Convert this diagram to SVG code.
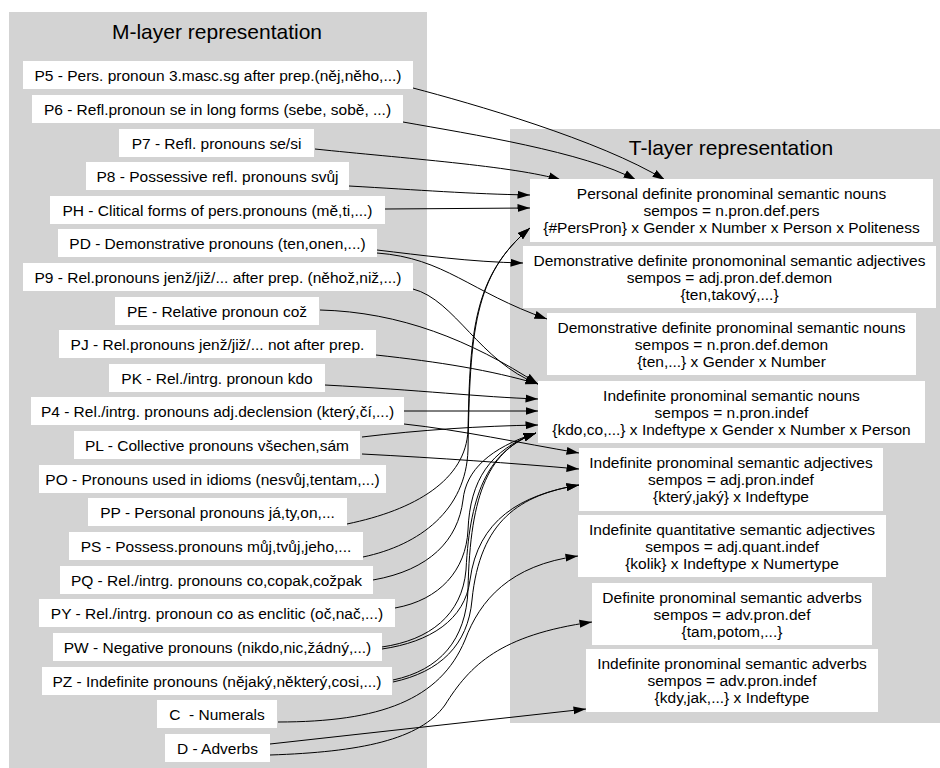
<svg xmlns="http://www.w3.org/2000/svg" width="940" height="768" viewBox="0 0 940 768">
<style>
.cl{fill:#d3d3d3;stroke:none}
.nd{fill:#ffffff;stroke:none}
.t{font-family:"Liberation Sans",Arial,sans-serif;font-size:15.5px;fill:#000;text-anchor:middle}
.ti{font-family:"Liberation Sans",Arial,sans-serif;font-size:21px;fill:#000;text-anchor:middle}
.e{fill:none;stroke:#000;stroke-width:1;marker-end:url(#ah)}
</style>
<defs>
<marker id="ah" markerUnits="userSpaceOnUse" markerWidth="13" markerHeight="9" viewBox="0 0 13 9" refX="12.5" refY="4.5" orient="auto">
<path d="M0,0.5 L12.5,4.5 L0,8.5 z" fill="#000"/>
</marker>
</defs>
<rect width="940" height="768" fill="#fff"/>
<g id="cluster_m">
<rect class="cl" x="9" y="12" width="418" height="756"/>
<text class="ti" x="217" y="39">M-layer representation</text>
</g>
<g id="cluster_t">
<rect class="cl" x="510" y="129" width="430" height="594"/>
<text class="ti" x="731" y="155">T-layer representation</text>
</g>
<g id="edges">
<path class="e" d="M413,88 C470,103 600,140 665,180"/>
<path class="e" d="M403,122 C470,134 585,152 636,180"/>
<path class="e" d="M315,149 C400,158 515,166 561,180"/>
<path class="e" d="M349,186 C420,190 470,194 530,195"/>
<path class="e" d="M385,209 L530,208"/>
<path class="e" d="M377,250 C420,255 470,262 523,263"/>
<path class="e" d="M377,253 C445,258 470,292 547,319"/>
<path class="e" d="M413,289 C455,300 480,362 538,384"/>
<path class="e" d="M320,310 C400,312 470,340 538,384"/>
<path class="e" d="M376,355 C440,362 490,370 538,384"/>
<path class="e" d="M325,385 C420,390 480,397 538,399"/>
<path class="e" d="M404,411 L538,411"/>
<path class="e" d="M404,424 C460,430 520,443 579,453"/>
<path class="e" d="M362,437 C420,430 480,426 538,425"/>
<path class="e" d="M362,454 C440,458 510,463 579,469"/>
<path class="e" d="M347,524 C415,510 466,480 468,430 C470,330 474,275 530,228"/>
<path class="e" d="M363,557 C420,545 466,510 468,450 C470,330 474,275 530,228"/>
<path class="e" d="M373,580 C430,570 458,540 463,500 C466,470 490,448 536,433"/>
<path class="e" d="M395,608 C440,600 466,570 468,530 C470,480 490,450 536,433"/>
<path class="e" d="M382,647 C430,640 462,615 466,570 C470,490 490,450 536,433"/>
<path class="e" d="M382,649 C430,642 465,620 470,580 C478,520 520,495 579,485"/>
<path class="e" d="M393,680 C440,670 466,640 468,590 C470,490 490,450 536,433"/>
<path class="e" d="M393,682 C440,672 468,645 472,600 C480,520 520,495 579,485"/>
<path class="e" d="M278,722 C380,722 440,700 465,640 C480,600 510,565 578,556"/>
<path class="e" d="M270,744 L586,709"/>
<path class="e" d="M270,755 C360,752 420,740 445,705 C470,665 500,635 592,622"/>
</g>
<g id="P5"><rect class="nd" x="23" y="61" width="390" height="28"/><text class="t" x="218" y="80.5">P5 - Pers. pronoun 3.masc.sg after prep.(něj,něho,...)</text></g>
<g id="P6"><rect class="nd" x="32" y="95" width="371" height="28"/><text class="t" x="217.5" y="114.5">P6 - Refl.pronoun se in long forms (sebe, sobě, ...)</text></g>
<g id="P7"><rect class="nd" x="119" y="129" width="195" height="28"/><text class="t" x="216.5" y="148.5">P7 - Refl. pronouns se/si</text></g>
<g id="P8"><rect class="nd" x="86" y="162" width="263" height="28"/><text class="t" x="217.5" y="181.5">P8 - Possessive refl. pronouns svůj</text></g>
<g id="PH"><rect class="nd" x="50" y="196" width="335" height="28"/><text class="t" x="217.5" y="215.5">PH - Clitical forms of pers.pronouns (mě,ti,...)</text></g>
<g id="PD"><rect class="nd" x="58" y="229" width="319" height="28"/><text class="t" x="217.5" y="248.5">PD - Demonstrative pronouns (ten,onen,...)</text></g>
<g id="P9"><rect class="nd" x="23" y="263" width="390" height="28"/><text class="t" x="218" y="282.5">P9 - Rel.pronouns jenž/již/... after prep. (něhož,niž,...)</text></g>
<g id="PE"><rect class="nd" x="115" y="297" width="204" height="28"/><text class="t" x="217" y="316.5">PE - Relative pronoun což</text></g>
<g id="PJ"><rect class="nd" x="59" y="330" width="317" height="28"/><text class="t" x="217.5" y="349.5">PJ - Rel.pronouns jenž/již/... not after prep.</text></g>
<g id="PK"><rect class="nd" x="109" y="364" width="216" height="28"/><text class="t" x="217" y="383.5">PK - Rel./intrg. pronoun kdo</text></g>
<g id="P4"><rect class="nd" x="31" y="397" width="373" height="28"/><text class="t" x="217.5" y="416.5">P4 - Rel./intrg. pronouns adj.declension (který,čí,...)</text></g>
<g id="PL"><rect class="nd" x="74" y="431" width="286" height="28"/><text class="t" x="217" y="450.5">PL - Collective pronouns všechen,sám</text></g>
<g id="PO"><rect class="nd" x="39" y="465" width="347" height="28"/><text class="t" x="212.5" y="484.5">PO - Pronouns used in idioms (nesvůj,tentam,...)</text></g>
<g id="PP"><rect class="nd" x="88" y="498" width="259" height="28"/><text class="t" x="217.5" y="517.5">PP - Personal pronouns já,ty,on,...</text></g>
<g id="PS"><rect class="nd" x="69" y="532" width="294" height="28"/><text class="t" x="216" y="551.5">PS - Possess.pronouns můj,tvůj,jeho,...</text></g>
<g id="PQ"><rect class="nd" x="60" y="566" width="313" height="28"/><text class="t" x="216.5" y="585.5">PQ - Rel./intrg. pronouns co,copak,cožpak</text></g>
<g id="PY"><rect class="nd" x="39" y="599" width="356" height="28"/><text class="t" x="217" y="618.5">PY - Rel./intrg. pronoun co as enclitic (oč,nač,...)</text></g>
<g id="PW"><rect class="nd" x="53" y="633" width="329" height="28"/><text class="t" x="217.5" y="652.5">PW - Negative pronouns (nikdo,nic,žádný,...)</text></g>
<g id="PZ"><rect class="nd" x="42" y="667" width="350" height="28"/><text class="t" x="217" y="686.5">PZ - Indefinite pronouns (nějaký,některý,cosi,...)</text></g>
<g id="C"><rect class="nd" x="157" y="700" width="120" height="28"/><text class="t" x="217" y="719.5" style="white-space:pre">C  - Numerals</text></g>
<g id="D"><rect class="nd" x="165" y="734" width="105" height="28"/><text class="t" x="217.5" y="753.5">D - Adverbs</text></g>
<g id="T_pers"><rect class="nd" x="530" y="179" width="403" height="63"/><text class="t" x="731.5" y="199">Personal definite pronominal semantic nouns</text><text class="t" x="731.5" y="216">sempos = n.pron.def.pers</text><text class="t" x="731.5" y="233">{#PersPron} x Gender x Number x Person x Politeness</text></g>
<g id="T_demadj"><rect class="nd" x="523" y="246" width="413" height="62"/><text class="t" x="729.5" y="266">Demonstrative definite pronomoninal semantic adjectives</text><text class="t" x="729.5" y="283">sempos = adj.pron.def.demon</text><text class="t" x="729.5" y="300">{ten,takový,...}</text></g>
<g id="T_demn"><rect class="nd" x="547" y="313" width="369" height="62"/><text class="t" x="731.5" y="333">Demonstrative definite pronominal semantic nouns</text><text class="t" x="731.5" y="350">sempos = n.pron.def.demon</text><text class="t" x="731.5" y="367">{ten,...} x Gender x Number</text></g>
<g id="T_indefn"><rect class="nd" x="538" y="381" width="387" height="62"/><text class="t" x="731.5" y="401">Indefinite pronominal semantic nouns</text><text class="t" x="731.5" y="418">sempos = n.pron.indef</text><text class="t" x="731.5" y="435">{kdo,co,...} x Indeftype x Gender x Number x Person</text></g>
<g id="T_indefadj"><rect class="nd" x="579" y="448" width="304" height="63"/><text class="t" x="731" y="468">Indefinite pronominal semantic adjectives</text><text class="t" x="731" y="485">sempos = adj.pron.indef</text><text class="t" x="731" y="502">{který,jaký} x Indeftype</text></g>
<g id="T_quant"><rect class="nd" x="578" y="515" width="308" height="62"/><text class="t" x="732" y="535">Indefinite quantitative semantic adjectives</text><text class="t" x="732" y="552">sempos = adj.quant.indef</text><text class="t" x="732" y="569">{kolik} x Indeftype x Numertype</text></g>
<g id="T_defadv"><rect class="nd" x="592" y="583" width="280" height="62"/><text class="t" x="732" y="603">Definite pronominal semantic adverbs</text><text class="t" x="732" y="620">sempos = adv.pron.def</text><text class="t" x="732" y="637">{tam,potom,...}</text></g>
<g id="T_indefadv"><rect class="nd" x="586" y="649" width="292" height="63"/><text class="t" x="732" y="669">Indefinite pronominal semantic adverbs</text><text class="t" x="732" y="686">sempos = adv.pron.indef</text><text class="t" x="732" y="703">{kdy,jak,...} x Indeftype</text></g>
</svg>
